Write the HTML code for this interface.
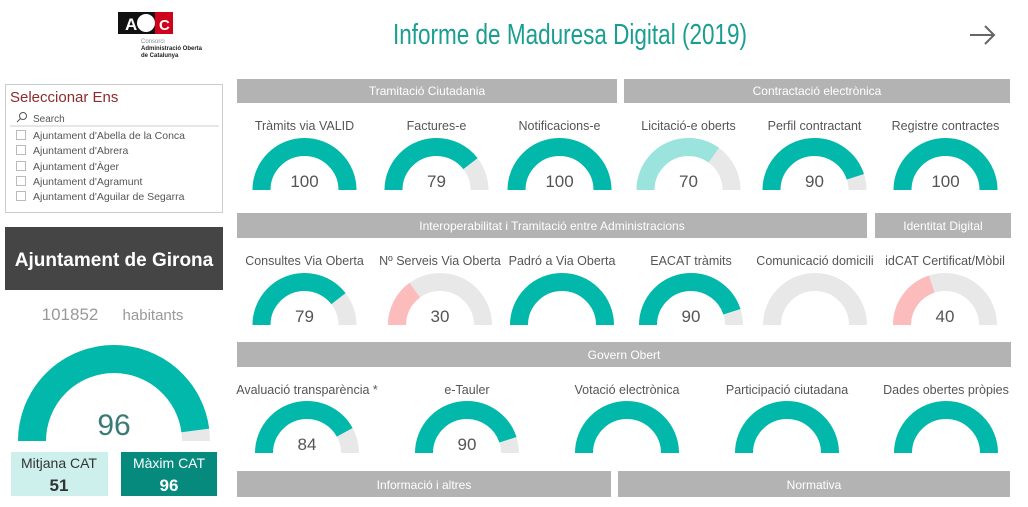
<!DOCTYPE html>
<html><head><meta charset="utf-8"><style>
html,body{margin:0;padding:0;background:#fff;}
svg{display:block;font-family:"Liberation Sans",sans-serif;}
.t{font-size:12.5px;fill:#555;text-anchor:middle;}
.v{font-size:17px;fill:#555;text-anchor:middle;}
.h{font-size:12px;fill:#fff;text-anchor:middle;}
.bar{fill:#b3b3b3;}
.bg{fill:none;stroke:#e8e8e8;stroke-width:18;}
.fg{fill:none;stroke:#01b8aa;stroke-width:18;}
</style></head><body>
<svg width="1028" height="507" viewBox="0 0 1028 507" xmlns="http://www.w3.org/2000/svg">
<!-- logo -->
<rect x="118" y="12" width="55" height="22" fill="#111"/>
<text x="125" y="30" font-size="17" font-weight="bold" fill="#fff">A</text>
<circle cx="146" cy="23" r="9" fill="#fff"/>
<rect x="155" y="12" width="18" height="22" fill="#d0021b"/>
<text x="159" y="30" font-size="15" font-weight="bold" fill="#fff">C</text>
<text x="141" y="43" font-size="6" fill="#888">Consorci</text>
<text x="141" y="50" font-size="6" font-weight="bold" fill="#222">Administració Oberta</text>
<text x="141" y="57" font-size="6" font-weight="bold" fill="#222">de Catalunya</text>
<!-- title -->
<text x="393" y="44" font-size="29" fill="#1a9e8f" textLength="354" lengthAdjust="spacingAndGlyphs">Informe de Maduresa Digital (2019)</text>
<path d="M970,35 H994 M985,26 L994,35 L985,44" fill="none" stroke="#666" stroke-width="2"/>
<!-- slicer -->
<rect x="5.5" y="84.5" width="217" height="128" fill="#fff" stroke="#ccc"/>
<text x="10" y="102" font-size="15" fill="#8b2c2c">Seleccionar Ens</text>
<circle cx="23" cy="116" r="3.5" fill="none" stroke="#555"/><path d="M20.5,118.5 L17,122" stroke="#555"/>
<text x="33" y="122" font-size="10" fill="#555">Search</text>
<line x1="10" y1="126" x2="219" y2="126" stroke="#ccc"/>
<g font-size="10.5" fill="#555">
<rect x="16.5" y="130.5" width="9" height="9" fill="none" stroke="#bbb"/><text x="33" y="139">Ajuntament d'Abella de la Conca</text>
<rect x="16.5" y="145.5" width="9" height="9" fill="none" stroke="#bbb"/><text x="33" y="154">Ajuntament d'Abrera</text>
<rect x="16.5" y="161.5" width="9" height="9" fill="none" stroke="#bbb"/><text x="33" y="170">Ajuntament d'Àger</text>
<rect x="16.5" y="176.5" width="9" height="9" fill="none" stroke="#bbb"/><text x="33" y="185">Ajuntament d'Agramunt</text>
<rect x="16.5" y="191.5" width="9" height="9" fill="none" stroke="#bbb"/><text x="33" y="200">Ajuntament d'Aguilar de Segarra</text>
</g>
<!-- Girona -->
<rect x="5" y="227" width="218" height="63" fill="#454545"/>
<text x="114" y="266" font-size="19" font-weight="bold" fill="#fff" text-anchor="middle">Ajuntament de Girona</text>
<text x="70" y="320" font-size="17" fill="#999" text-anchor="middle">101852</text>
<text x="153" y="320" font-size="15" fill="#999" text-anchor="middle">habitants</text>
<!-- big gauge -->
<path d="M32,441 A82,82 0 0 1 196,441" fill="none" stroke="#e8e8e8" stroke-width="28"/>
<path d="M32,441 A82,82 0 0 1 196,441" fill="none" stroke="#01b8aa" stroke-width="28" pathLength="100" stroke-dasharray="96 200"/>
<text x="114" y="435" font-size="30" fill="#3a7a74" text-anchor="middle">96</text>
<rect x="11" y="452" width="97" height="44" fill="#cdf0ed"/>
<text x="59" y="468" font-size="14" fill="#333" text-anchor="middle">Mitjana CAT</text>
<text x="59" y="491" font-size="17" font-weight="bold" fill="#333" text-anchor="middle">51</text>
<rect x="121" y="452" width="96" height="44" fill="#078a7e"/>
<text x="169" y="468" font-size="14" fill="#fff" text-anchor="middle">Màxim CAT</text>
<text x="169" y="491" font-size="17" font-weight="bold" fill="#fff" text-anchor="middle">96</text>
<!-- bars -->
<rect class="bar" x="237" y="79" width="380" height="24"/><text class="h" x="427" y="95">Tramitació Ciutadania</text>
<rect class="bar" x="624" y="79" width="386" height="24"/><text class="h" x="817" y="95">Contractació electrònica</text>
<rect class="bar" x="237" y="213" width="630" height="25"/><text class="h" x="552" y="230">Interoperabilitat i Tramitació entre Administracions</text>
<rect class="bar" x="875" y="213" width="136" height="25"/><text class="h" x="943" y="230">Identitat Digital</text>
<rect class="bar" x="237" y="342" width="774" height="25"/><text class="h" x="624" y="359">Govern Obert</text>
<rect class="bar" x="237" y="471" width="374" height="26"/><text class="h" x="424" y="489">Informació i altres</text>
<rect class="bar" x="618" y="471" width="392" height="26"/><text class="h" x="814" y="489">Normativa</text>
<!-- row1 -->
<g transform="translate(304.5,190)"><text class="t" y="-60">Tràmits via VALID</text><path d="M-43,0 A43,43 0 0 1 43,0" class="bg"/><path d="M-43,0 A43,43 0 0 1 43,0" class="fg" pathLength="100" stroke-dasharray="100 200"/><text class="v" y="-3">100</text></g>
<g transform="translate(436.5,190)"><text class="t" y="-60">Factures-e</text><path d="M-43,0 A43,43 0 0 1 43,0" class="bg"/><path d="M-43,0 A43,43 0 0 1 43,0" class="fg" pathLength="100" stroke-dasharray="79 200"/><text class="v" y="-3">79</text></g>
<g transform="translate(559.5,190)"><text class="t" y="-60">Notificacions-e</text><path d="M-43,0 A43,43 0 0 1 43,0" class="bg"/><path d="M-43,0 A43,43 0 0 1 43,0" class="fg" pathLength="100" stroke-dasharray="100 200"/><text class="v" y="-3">100</text></g>
<g transform="translate(688.5,190)"><text class="t" y="-60">Licitació-e oberts</text><path d="M-43,0 A43,43 0 0 1 43,0" class="bg"/><path d="M-43,0 A43,43 0 0 1 43,0" class="fg" style="stroke:#9be3dd" pathLength="100" stroke-dasharray="70 200"/><text class="v" y="-3">70</text></g>
<g transform="translate(814.5,190)"><text class="t" y="-60">Perfil contractant</text><path d="M-43,0 A43,43 0 0 1 43,0" class="bg"/><path d="M-43,0 A43,43 0 0 1 43,0" class="fg" pathLength="100" stroke-dasharray="90 200"/><text class="v" y="-3">90</text></g>
<g transform="translate(945.5,190)"><text class="t" y="-60">Registre contractes</text><path d="M-43,0 A43,43 0 0 1 43,0" class="bg"/><path d="M-43,0 A43,43 0 0 1 43,0" class="fg" pathLength="100" stroke-dasharray="100 200"/><text class="v" y="-3">100</text></g>
<!-- row2 -->
<g transform="translate(304.5,325)"><text class="t" y="-60">Consultes Via Oberta</text><path d="M-43,0 A43,43 0 0 1 43,0" class="bg"/><path d="M-43,0 A43,43 0 0 1 43,0" class="fg" pathLength="100" stroke-dasharray="79 200"/><text class="v" y="-3">79</text></g>
<g transform="translate(440,325)"><text class="t" y="-60">Nº Serveis Via Oberta</text><path d="M-43,0 A43,43 0 0 1 43,0" class="bg"/><path d="M-43,0 A43,43 0 0 1 43,0" class="fg" style="stroke:#fdbcbc" pathLength="100" stroke-dasharray="30 200"/><text class="v" y="-3">30</text></g>
<g transform="translate(562,325)"><text class="t" y="-60">Padró a Via Oberta</text><path d="M-43,0 A43,43 0 0 1 43,0" class="bg"/><path d="M-43,0 A43,43 0 0 1 43,0" class="fg" pathLength="100" stroke-dasharray="100 200"/></g>
<g transform="translate(691,325)"><text class="t" y="-60">EACAT tràmits</text><path d="M-43,0 A43,43 0 0 1 43,0" class="bg"/><path d="M-43,0 A43,43 0 0 1 43,0" class="fg" pathLength="100" stroke-dasharray="90 200"/><text class="v" y="-3">90</text></g>
<g transform="translate(815,325)"><text class="t" y="-60">Comunicació domicili</text><path d="M-43,0 A43,43 0 0 1 43,0" class="bg"/></g>
<g transform="translate(945,325)"><text class="t" y="-60">idCAT Certificat/Mòbil</text><path d="M-43,0 A43,43 0 0 1 43,0" class="bg"/><path d="M-43,0 A43,43 0 0 1 43,0" class="fg" style="stroke:#fdbcbc" pathLength="100" stroke-dasharray="40 200"/><text class="v" y="-3">40</text></g>
<!-- row3 -->
<g transform="translate(307,453)"><text class="t" y="-59">Avaluació transparència *</text><path d="M-43,0 A43,43 0 0 1 43,0" class="bg"/><path d="M-43,0 A43,43 0 0 1 43,0" class="fg" pathLength="100" stroke-dasharray="84 200"/><text class="v" y="-3">84</text></g>
<g transform="translate(467,453)"><text class="t" y="-59">e-Tauler</text><path d="M-43,0 A43,43 0 0 1 43,0" class="bg"/><path d="M-43,0 A43,43 0 0 1 43,0" class="fg" pathLength="100" stroke-dasharray="90 200"/><text class="v" y="-3">90</text></g>
<g transform="translate(627,453)"><text class="t" y="-59">Votació electrònica</text><path d="M-43,0 A43,43 0 0 1 43,0" class="bg"/><path d="M-43,0 A43,43 0 0 1 43,0" class="fg" pathLength="100" stroke-dasharray="100 200"/></g>
<g transform="translate(787,453)"><text class="t" y="-59">Participació ciutadana</text><path d="M-43,0 A43,43 0 0 1 43,0" class="bg"/><path d="M-43,0 A43,43 0 0 1 43,0" class="fg" pathLength="100" stroke-dasharray="100 200"/></g>
<g transform="translate(946,453)"><text class="t" y="-59">Dades obertes pròpies</text><path d="M-43,0 A43,43 0 0 1 43,0" class="bg"/><path d="M-43,0 A43,43 0 0 1 43,0" class="fg" pathLength="100" stroke-dasharray="100 200"/></g>
</svg>
</body></html>
